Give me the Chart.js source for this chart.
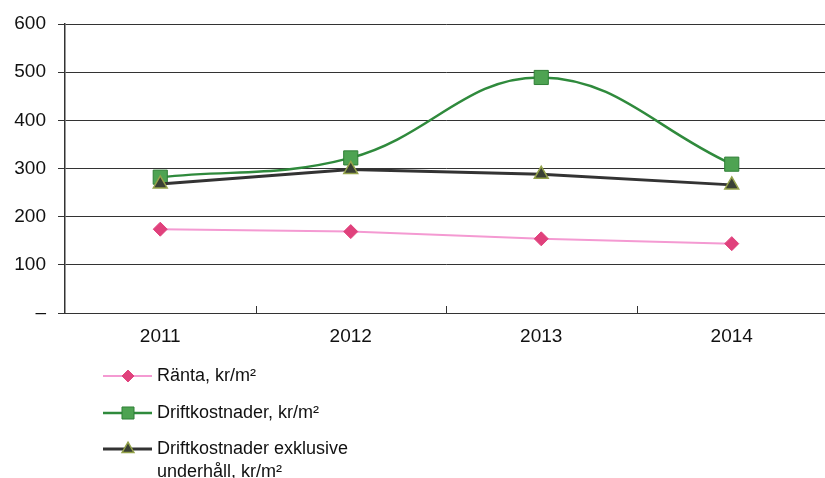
<!DOCTYPE html>
<html><head><meta charset="utf-8">
<script src="https://cdn.jsdelivr.net/npm/chart.js@4"></script>
<style>
html,body{margin:0;padding:0;background:#fff;overflow:hidden;}
#c{display:block;}
</style></head>
<body><canvas id="c" width="838" height="478"></canvas>
<script>
const years = ['2011','2012','2013','2014'];
const rantaValues = [174, 169, 154, 144];
const driftValues = [282, 322, 489, 309];
const exklValues = [268, 298, 288, 266];
const seriesLabels = ['Ränta, kr/m²', 'Driftkostnader, kr/m²', ['Driftkostnader exklusive', 'underhåll, kr/m²']];
const yTicks = [0, 100, 200, 300, 400, 500, 600];

const FONT = '"Liberation Sans", Arial, sans-serif';

const innerTicks = {
  id: 'innerTicks',
  afterDatasetsDraw(chart) {
    const x = chart.scales.x, a = chart.chartArea, ctx = chart.ctx;
    ctx.save();
    ctx.strokeStyle = '#333';
    ctx.lineWidth = 1;
    for (let i = 1; i < years.length; i++) {
      const px = Math.round((x.getPixelForValue(i - 1) + x.getPixelForValue(i)) / 2) + 0.5;
      ctx.beginPath();
      ctx.moveTo(px, a.bottom);
      ctx.lineTo(px, a.bottom - 7);
      ctx.stroke();
    }
    ctx.restore();
  }
};

const customLegend = {
  id: 'customLegend',
  afterDraw(chart) {
    const ctx = chart.ctx;
    const rows = [376, 413, 449];
    ctx.save();
    ctx.font = '18px ' + FONT;
    ctx.textBaseline = 'middle';
    chart.data.datasets.forEach((ds, i) => {
      const y = rows[i];
      ctx.strokeStyle = ds.borderColor;
      ctx.lineWidth = ds.borderWidth;
      ctx.beginPath();
      ctx.moveTo(103, y);
      ctx.lineTo(152, y);
      ctx.stroke();
      ctx.fillStyle = ds.pointBackgroundColor;
      ctx.strokeStyle = ds.pointBorderColor;
      ctx.lineWidth = ds.pointBorderWidth;
      const r = ds.pointRadius * 0.85;
      Chart.helpers.drawPoint(ctx, {pointStyle: ds.pointStyle, radius: r, borderWidth: ds.pointBorderWidth}, 128, y);
      ctx.fillStyle = '#111';
      const lab = Array.isArray(ds.label) ? ds.label : [ds.label];
      lab.forEach((t, j) => ctx.fillText(t, 157, y + j * 23));
    });
    ctx.restore();
  }
};

new Chart(document.getElementById('c'), {
  type: 'line',
  data: {
    labels: years,
    datasets: [
      {
        label: seriesLabels[0], data: rantaValues,
        borderColor: '#f49ad2', borderWidth: 2, tension: 0,
        pointStyle: 'rectRot', pointRadius: 7, pointHoverRadius: 7,
        pointBackgroundColor: '#e0417c', pointBorderColor: '#e0417c', pointBorderWidth: 1,
        order: 3
      },
      {
        label: seriesLabels[1], data: driftValues,
        borderColor: '#2f8a3c', borderWidth: 2.5, tension: 0.4, cubicInterpolationMode: 'default',
        pointStyle: 'rect', pointRadius: 10, pointHoverRadius: 10,
        pointBackgroundColor: '#4ea352', pointBorderColor: '#2f7f36', pointBorderWidth: 1,
        order: 2
      },
      {
        label: seriesLabels[2], data: exklValues,
        borderColor: '#333333', borderWidth: 3, tension: 0,
        pointStyle: 'triangle', pointRadius: 8, pointHoverRadius: 8,
        pointBackgroundColor: '#3a4035', pointBorderColor: '#94a24a', pointBorderWidth: 1.5,
        order: 1
      }
    ]
  },
  options: {
    responsive: false,
    animation: false,
    devicePixelRatio: 1,
    layout: { padding: { top: 24, right: 0, bottom: 0, left: 0 } },
    plugins: { legend: { display: false }, tooltip: { enabled: false } },
    scales: {
      x: {
        offset: true,
        grid: { display: false, drawOnChartArea: false },
        border: { display: true, color: '#333', width: 1 },
        ticks: { color: '#111', font: { family: FONT, size: 19 }, padding: 4 },
        afterFit(s) { s.height = 165; s.paddingLeft = 0; s.paddingRight = 0; }
      },
      y: {
        min: 0, max: 600,
        afterBuildTicks(s) { s.ticks = yTicks.map(v => ({ value: v })); },
        grid: { color: '#333', lineWidth: 1, tickLength: 7 },
        border: { display: true, color: '#333', width: 1.5 },
        ticks: {
          color: '#111', font: { family: FONT, size: 19 }, padding: 12,
          callback: v => v === 0 ? '–' : String(v)
        },
        afterFit(s) { s.width = 65; }
      }
    }
  },
  plugins: [innerTicks, customLegend]
});
</script>
</body></html>
